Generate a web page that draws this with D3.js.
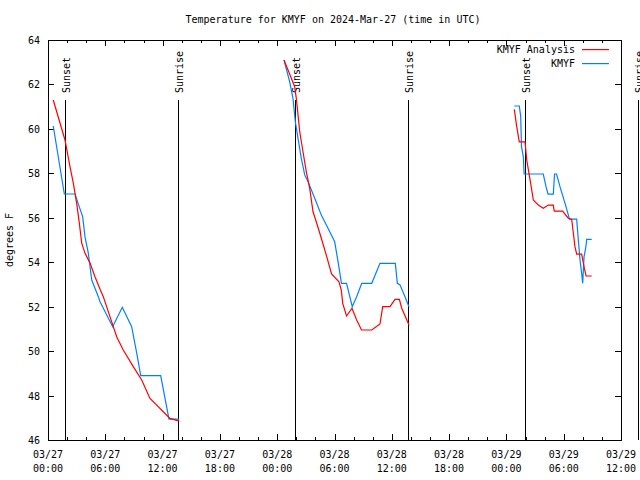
<!DOCTYPE html>
<html>
<head>
<meta charset="utf-8">
<script src="https://cdn.jsdelivr.net/npm/d3@7"></script>
<style>
  html, body { margin: 0; padding: 0; background: #fff; }
  svg { display: block; }
  text { font-family: "DejaVu Sans Mono", "Liberation Mono", monospace; font-size: 10px; fill: #000; }
</style>
</head>
<body>
<svg id="chart" width="640" height="480"></svg>
<script>
// ---------------- data (hours after 2024-03-27 00:00 UTC, degrees F) ----------------
const chartTitle = "Temperature for KMYF on 2024-Mar-27 (time in UTC)";
const yAxisLabel = "degrees F";
const seriesNames = ["KMYF Analysis", "KMYF"];
const yTickValues = [46, 48, 50, 52, 54, 56, 58, 60, 62, 64];

const sunsetHours = [1.81, 25.9, 49.98];
const sunriseHours = [13.64, 37.70, 61.75];

// KMYF Analysis (red); null marks a gap
const analysisHours = [
  0.55, 1.78, 2.30, 2.65, 3.00, 3.28, 3.53, 3.87, 4.40, 4.92, 5.45, 5.79, 7.19, 7.88, 8.93, 9.81, 10.68, 11.38, 12.07, 12.77, 13.75,
  null,
  24.71, 25.48, 25.83, 26.00, 26.18, 26.36, 26.70, 27.05, 27.40, 27.75, 28.09, 28.62, 29.14, 29.69, 30.47, 30.71, 30.86, 31.26, 31.83, 32.32, 32.83, 33.90, 34.76, 35.05, 35.81, 36.34, 36.79, 37.04, 37.80,
  null,
  48.83, 49.08, 49.35, 49.95, 50.13, 50.54, 50.82, 51.34, 51.86, 52.39, 52.91, 53.01, 53.89, 54.48, 54.84, 54.97, 55.18, 55.36, 55.88, 56.16, 56.34, 56.93
];
const analysisTemps = [
  61.30, 59.50, 58.30, 57.56, 56.66, 55.76, 54.86, 54.41, 53.96, 53.35, 52.78, 52.45, 50.65, 50.05, 49.30, 48.70, 47.87, 47.57, 47.27, 46.97, 46.85,
  null,
  63.10, 62.28, 61.90, 61.37, 60.63, 59.87, 58.97, 58.07, 57.33, 56.27, 55.82, 55.08, 54.32, 53.47, 53.12, 52.75, 52.15, 51.58, 51.93, 51.40, 50.95, 50.95, 51.22, 52.00, 52.00, 52.33, 52.33, 51.93, 51.17,
  null,
  60.88, 60.10, 59.42, 59.42, 58.60, 57.55, 56.80, 56.57, 56.43, 56.57, 56.57, 56.30, 56.30, 55.98, 55.93, 55.45, 54.70, 54.36, 54.36, 53.73, 53.38, 53.38
];

// KMYF observations (blue)
const obsHours = [
  0.55, 1.71, 2.83, 3.14, 3.63, 3.87, 4.22, 4.58, 5.27, 5.45, 6.77, 7.78, 8.76, 9.29, 9.71, 11.80, 12.67, 13.72,
  null,
  24.71, 25.31, 25.65, 25.90, 26.18, 26.52, 26.88, 27.23, 27.93, 28.62, 29.32, 30.02, 30.40, 30.73, 31.26, 31.86, 32.32, 32.85, 33.90, 34.76, 36.37, 36.58, 36.86, 37.38, 37.80,
  null,
  48.83, 49.35, 49.50, 49.58, 49.77, 49.86, 51.86, 52.15, 52.36, 52.91, 53.04, 53.25, 53.61, 54.14, 54.61, 55.36, 55.53, 55.71, 55.88, 55.99, 56.13, 56.30, 56.41, 56.93
];
const obsTemps = [
  60.13, 57.07, 57.07, 56.66, 56.05, 55.15, 54.41, 53.20, 52.45, 52.22, 51.10, 51.97, 51.10, 49.91, 48.90, 48.90, 46.94, 46.94,
  null,
  63.10, 62.12, 61.37, 60.32, 59.57, 58.68, 57.93, 57.62, 56.88, 56.12, 55.53, 54.92, 53.95, 53.05, 53.05, 52.00, 52.45, 53.05, 53.05, 53.95, 53.95, 53.05, 52.98, 52.45, 52.00,
  null,
  61.03, 61.03, 60.55, 59.20, 58.75, 57.97, 57.97, 57.40, 57.06, 57.06, 57.97, 57.97, 57.40, 56.65, 55.94, 55.94, 55.00, 54.10, 53.50, 53.05, 54.25, 54.63, 55.03, 55.03
];

// ---------------- chart ----------------
const t0 = Date.UTC(2024, 2, 27, 0, 0);
const toDate = h => new Date(t0 + h * 3600e3);

const svg = d3.select("#chart");
const plotLeft = 48, plotRight = 621, plotTop = 40, plotBottom = 440;

const x = d3.scaleUtc()
  .domain([toDate(0), toDate(60)])
  .range([plotLeft, plotRight]);
const y = d3.scaleLinear().domain([46, 64]).range([plotBottom, plotTop]);

const seriesColors = ["#ff0000", "#0080ff"];

// Title
svg.append("text")
  .attr("x", 333).attr("y", 23)
  .attr("text-anchor", "middle")
  .text(chartTitle);

// Y label
svg.append("text")
  .attr("transform", `translate(13,${(plotTop + plotBottom) / 2}) rotate(-90)`)
  .attr("text-anchor", "middle")
  .text(yAxisLabel);

const g = svg.append("g");

// Frame
g.append("rect")
  .attr("x", plotLeft + 0.5).attr("y", plotTop + 0.5)
  .attr("width", plotRight - plotLeft).attr("height", plotBottom - plotTop)
  .attr("fill", "none").attr("stroke", "#000").attr("stroke-width", 1)
  .attr("shape-rendering", "crispEdges");

// X ticks (major 6h, minor 2h) on bottom and top, inward
const majorX = x.ticks(d3.utcHour.every(6));
const minorX = x.ticks(d3.utcHour.every(2)).filter(d => d.getUTCHours() % 6 !== 0);
const tickG = g.append("g").attr("stroke", "#000").attr("shape-rendering", "crispEdges");
[[majorX, 6], [minorX, 3]].forEach(([arr, len]) => {
  arr.forEach(d => {
    const px = Math.round(x(d)) + 0.5;
    tickG.append("line").attr("x1", px).attr("x2", px).attr("y1", plotBottom).attr("y2", plotBottom - len);
    tickG.append("line").attr("x1", px).attr("x2", px).attr("y1", plotTop).attr("y2", plotTop + len);
  });
});
// Y ticks on left and right, inward
yTickValues.forEach(v => {
  const py = Math.round(y(v)) + 0.5;
  tickG.append("line").attr("x1", plotLeft).attr("x2", plotLeft + 6).attr("y1", py).attr("y2", py);
  tickG.append("line").attr("x1", plotRight).attr("x2", plotRight - 6).attr("y1", py).attr("y2", py);
});

// X tick labels (two lines)
const fmtDate = d3.utcFormat("%m/%d");
const fmtTime = d3.utcFormat("%H:%M");
majorX.forEach(d => {
  const t = g.append("text").attr("text-anchor", "middle");
  t.append("tspan").attr("x", x(d)).attr("y", 458).text(fmtDate(d));
  t.append("tspan").attr("x", x(d)).attr("y", 472).text(fmtTime(d));
});
// Y tick labels
yTickValues.forEach(v => {
  g.append("text").attr("x", 40).attr("y", y(v) + 4)
    .attr("text-anchor", "end").text(d3.format("d")(v));
});

// Sunset / sunrise markers
const sunG = svg.append("g");
const addSun = (h, label) => {
  const px = Math.round(x(toDate(h))) + 0.5;
  sunG.append("line").attr("x1", px).attr("x2", px).attr("y1", 100).attr("y2", plotBottom)
    .style("stroke", "#000").attr("shape-rendering", "crispEdges");
  sunG.append("text").attr("transform", `translate(${px + 4.5},93) rotate(-90)`)
    .attr("text-anchor", "start").text(label);
};
sunsetHours.forEach(h => addSun(h, "Sunset"));
sunriseHours.forEach(h => addSun(h, "Sunrise"));

// Series lines
const line = d3.line()
  .defined(d => d[0] !== null && d[1] !== null)
  .x(d => x(toDate(d[0])))
  .y(d => y(d[1]));

const analysisData = analysisHours.map((h, i) => [h, analysisTemps[i]]);
const obsData = obsHours.map((h, i) => [h, obsTemps[i]]);

svg.append("path").datum(obsData)
  .style("fill", "none").style("stroke", seriesColors[1]).style("stroke-width", "1.2px")
  .attr("d", line);
svg.append("path").datum(analysisData)
  .style("fill", "none").style("stroke", seriesColors[0]).style("stroke-width", "1.2px")
  .attr("d", line);

// Legend
const legend = svg.append("g");
seriesNames.forEach((name, i) => {
  const ly = 49 + i * 14;
  legend.append("text").attr("x", 575).attr("y", ly + 4)
    .attr("text-anchor", "end").text(name);
  legend.append("rect").attr("x", 582).attr("y", ly).attr("width", 27).attr("height", 1.2)
    .style("fill", seriesColors[i]).style("stroke", "none");
});
</script>
</body>
</html>
